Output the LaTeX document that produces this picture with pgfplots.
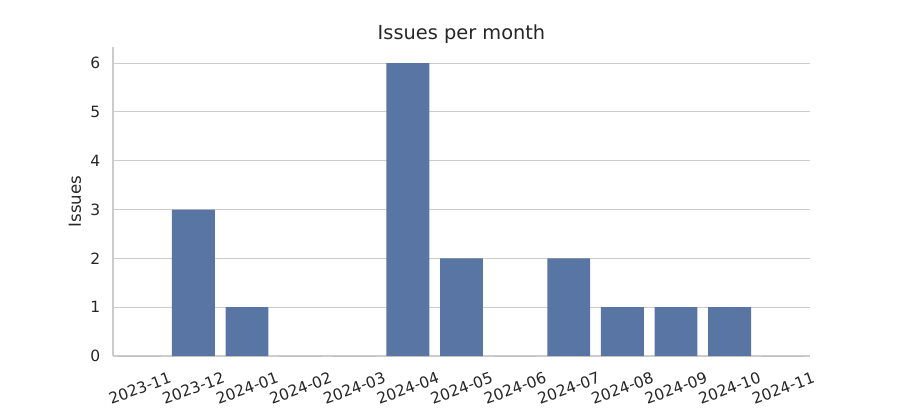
\documentclass[border=0pt]{standalone}
\usepackage{pgfplots}
\pgfplotsset{compat=1.18}
\usepackage{fontspec}
\setmainfont{DejaVu Sans}
\definecolor{barblue}{HTML}{5875A4}
\definecolor{gridgray}{HTML}{CCCCCC}
\definecolor{textgray}{HTML}{262626}
\begin{document}
\begin{tikzpicture}
\begin{axis}[
  at={(0,0)}, anchor=south west,
  scale only axis,
  width=501.84bp, height=222.48bp,
  xmin=-0.5, xmax=12.5,
  ymin=0, ymax=6.33,
  ybar, bar width=0.8,
  axis x line*=bottom, axis y line*=left,
  axis line style={draw=gridgray, line width=1.25bp, -},
  xtick={0,...,12},
  xticklabels={2023-11,2023-12,2024-01,2024-02,2024-03,2024-04,2024-05,2024-06,2024-07,2024-08,2024-09,2024-10,2024-11},
  ytick={0,1,2,3,4,5,6},
  major tick length=0pt,
  ymajorgrids,
  major grid style={draw=gridgray, line width=0.8bp},
  /pgf/number format/assume math mode=true,
  tick label style={font=\fontsize{11.2}{13}\selectfont, text=textgray},
  xticklabel style={rotate=20, anchor=center, xshift=-7.9bp, yshift=-21.7bp},
  yticklabel style={anchor=east, xshift=-5.6bp},
  ylabel={Issues},
  ylabel style={at={(axis description cs:-0.0546,0.5)}, anchor=center, font=\fontsize{12}{14}\selectfont, text=textgray},
  title={Issues per month},
  title style={at={(axis description cs:0.5,1)}, anchor=center, yshift=3.5bp, font=\fontsize{14}{16}\selectfont, text=textgray},
]
\addplot[fill=barblue, draw=none] coordinates {
(0,0) (1,3) (2,1) (3,0) (4,0) (5,6) (6,2) (7,0) (8,2) (9,1) (10,1) (11,1) (12,0)
};
\end{axis}
\path[use as bounding box] (-81.36bp,-31.68bp) rectangle (566.64bp,256.32bp);
\end{tikzpicture}
\end{document}
